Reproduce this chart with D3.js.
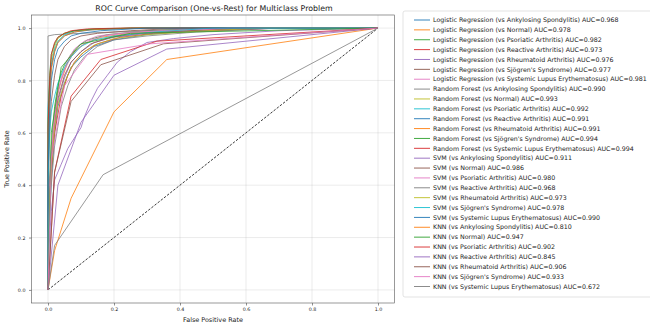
<!DOCTYPE html>
<html><head><meta charset="utf-8">
<script src="https://cdn.jsdelivr.net/npm/d3@7"></script>
<style>body{margin:0;background:#fff} text{font-family:"DejaVu Sans",sans-serif;fill:#222}</style>
</head><body><svg id="c" width="650" height="327"></svg>
<script>
const classes = ["Ankylosing Spondylitis","Normal","Psoriatic Arthritis","Reactive Arthritis","Rheumatoid Arthritis","Sjögren's Syndrome","Systemic Lupus Erythematosus"];
const models = ["Logistic Regression","Random Forest","SVM","KNN"];
const aucLR  = [0.968,0.978,0.982,0.973,0.976,0.977,0.981];
const aucRF  = [0.990,0.993,0.992,0.991,0.991,0.994,0.994];
const aucSVM = [0.911,0.986,0.980,0.968,0.973,0.978,0.990];
const aucKNN = [0.810,0.947,0.902,0.845,0.906,0.933,0.672];
const xTicks = [0,0.2,0.4,0.6,0.8,1.0];
const yTicks = [0,0.2,0.4,0.6,0.8,1.0];

const rocLR = [
 [[0,0],[0,0.15],[0.01,0.42],[0.02,0.6],[0.03,0.7],[0.05,0.79],[0.07,0.85],[0.1,0.89],[0.14,0.93],[0.2,0.955],[0.3,0.975],[0.45,0.99],[0.7,1],[1,1]],
 [[0,0],[0,0.25],[0.01,0.5],[0.02,0.66],[0.03,0.75],[0.04,0.8],[0.06,0.87],[0.08,0.91],[0.11,0.94],[0.16,0.965],[0.25,0.98],[0.4,0.99],[0.6,1],[1,1]],
 [[0,0],[0,0.3],[0.01,0.55],[0.02,0.7],[0.03,0.78],[0.04,0.83],[0.05,0.86],[0.07,0.9],[0.09,0.93],[0.12,0.955],[0.18,0.975],[0.3,0.99],[0.5,1],[1,1]],
 [[0,0],[0,0.2],[0.01,0.45],[0.02,0.6],[0.04,0.74],[0.06,0.82],[0.08,0.87],[0.11,0.91],[0.15,0.94],[0.22,0.965],[0.32,0.98],[0.5,0.99],[0.7,1],[1,1]],
 [[0,0],[0,0.22],[0.01,0.48],[0.02,0.63],[0.03,0.72],[0.05,0.81],[0.07,0.87],[0.1,0.91],[0.14,0.945],[0.2,0.965],[0.3,0.98],[0.45,0.99],[0.65,1],[1,1]],
 [[0,0],[0,0.28],[0.01,0.5],[0.02,0.64],[0.03,0.73],[0.05,0.82],[0.07,0.87],[0.1,0.91],[0.13,0.94],[0.19,0.965],[0.28,0.98],[0.42,0.99],[0.62,1],[1,1]],
 [[0,0],[0,0.3],[0.01,0.52],[0.02,0.67],[0.03,0.76],[0.05,0.84],[0.07,0.89],[0.09,0.92],[0.12,0.95],[0.17,0.97],[0.26,0.985],[0.4,0.993],[0.6,1],[1,1]]
];
const rocRF = [
 [[0,0],[0,0.97],[0.02,0.975],[0.1,0.98],[0.3,0.99],[0.5,1],[1,1]],
 [[0,0],[0,0.6],[0.005,0.8],[0.01,0.88],[0.02,0.93],[0.03,0.96],[0.05,0.98],[0.08,0.99],[0.15,0.997],[0.3,1],[1,1]],
 [[0,0],[0,0.7],[0.005,0.78],[0.01,0.86],[0.02,0.92],[0.03,0.95],[0.05,0.975],[0.08,0.99],[0.15,0.996],[0.3,1],[1,1]],
 [[0,0],[0,0.5],[0.005,0.74],[0.01,0.85],[0.02,0.91],[0.03,0.945],[0.05,0.97],[0.08,0.985],[0.13,0.993],[0.25,1],[1,1]],
 [[0,0],[0,0.45],[0.005,0.72],[0.01,0.84],[0.02,0.91],[0.03,0.945],[0.05,0.97],[0.08,0.985],[0.12,0.993],[0.25,1],[1,1]],
 [[0,0],[0,0.65],[0.005,0.82],[0.01,0.9],[0.02,0.94],[0.03,0.965],[0.05,0.98],[0.08,0.99],[0.14,0.997],[0.25,1],[1,1]],
 [[0,0],[0,0.62],[0.005,0.8],[0.01,0.9],[0.02,0.945],[0.03,0.965],[0.05,0.98],[0.07,0.99],[0.12,0.997],[0.22,1],[1,1]]
];
const rocSVM = [
 [[0,0],[0,0.1],[0.01,0.3],[0.02,0.42],[0.04,0.48],[0.06,0.54],[0.08,0.58],[0.1,0.62],[0.11,0.66],[0.13,0.72],[0.15,0.77],[0.18,0.82],[0.21,0.87],[0.25,0.91],[0.3,0.945],[0.38,0.96],[0.5,0.975],[0.7,0.99],[1,1]],
 [[0,0],[0,0.35],[0.005,0.6],[0.01,0.72],[0.02,0.82],[0.03,0.88],[0.05,0.93],[0.07,0.955],[0.1,0.97],[0.15,0.98],[0.25,0.99],[0.4,1],[1,1]],
 [[0,0],[0,0.2],[0.01,0.5],[0.02,0.65],[0.03,0.75],[0.04,0.81],[0.06,0.88],[0.08,0.92],[0.11,0.95],[0.15,0.97],[0.22,0.98],[0.35,0.99],[0.55,1],[1,1]],
 [[0,0],[0,0.15],[0.01,0.4],[0.02,0.55],[0.04,0.7],[0.06,0.78],[0.08,0.84],[0.11,0.89],[0.15,0.93],[0.2,0.955],[0.3,0.97],[0.45,0.985],[0.7,1],[1,1]],
 [[0,0],[0,0.2],[0.01,0.46],[0.02,0.62],[0.03,0.71],[0.05,0.79],[0.07,0.85],[0.1,0.9],[0.14,0.935],[0.2,0.96],[0.3,0.975],[0.45,0.988],[0.65,1],[1,1]],
 [[0,0],[0,0.4],[0.005,0.6],[0.01,0.68],[0.02,0.74],[0.03,0.79],[0.05,0.85],[0.07,0.89],[0.1,0.93],[0.14,0.955],[0.2,0.97],[0.32,0.985],[0.5,1],[1,1]],
 [[0,0],[0,0.45],[0.005,0.68],[0.01,0.8],[0.02,0.88],[0.03,0.92],[0.05,0.95],[0.07,0.97],[0.1,0.98],[0.16,0.99],[0.3,1],[1,1]]
];
const rocKNN = [
 [[0,0],[0.02,0.15],[0.07,0.35],[0.2,0.68],[0.36,0.88],[1,1]],
 [[0,0],[0.01,0.6],[0.04,0.85],[0.1,0.94],[0.25,0.98],[1,1]],
 [[0,0],[0.02,0.45],[0.07,0.74],[0.16,0.88],[0.33,0.95],[1,1]],
 [[0,0],[0.03,0.4],[0.1,0.64],[0.2,0.82],[0.36,0.92],[1,1]],
 [[0,0],[0.02,0.45],[0.07,0.72],[0.16,0.86],[0.35,0.94],[1,1]],
 [[0,0],[0.01,0.5],[0.05,0.78],[0.12,0.9],[0.31,0.94],[1,1]],
 [[0,0],[0.02,0.17],[0.167,0.44],[1,1]]
];
const diagonal = [[0,0],[1,1]];
const palette = ["#1f77b4","#ff7f0e","#2ca02c","#d62728","#9467bd","#8c564b","#e377c2","#7f7f7f","#bcbd22","#17becf"];

const aucs = [aucLR, aucRF, aucSVM, aucKNN];
const rocs = [rocLR, rocRF, rocSVM, rocKNN];
const series = [];
models.forEach((m, mi) => classes.forEach((c, ci) => {
  series.push({label: `${m} (vs ${c}) AUC=${aucs[mi][ci].toFixed(3)}`, pts: rocs[mi][ci]});
}));
series.forEach((s, i) => s.color = palette[i % 10]);

const svg = d3.select("#c");
const L = 31.5, R = 394.5, T = 15, B = 303;
const x = d3.scaleLinear().domain([-0.05, 1.05]).range([L, R]);
const y = d3.scaleLinear().domain([-0.05, 1.05]).range([B, T]);

function fitSize(sel, target) {
  sel.attr("font-size", 10);
  const w = sel.node().getComputedTextLength();
  const fs = 10 * target / w;
  sel.attr("font-size", fs);
  return fs;
}

// grid
const g = svg.append("g");
g.selectAll(".gx").data(xTicks).join("line").attr("x1", d => x(d)).attr("x2", d => x(d))
  .attr("y1", T).attr("y2", B).attr("stroke", "#b0b0b0").attr("stroke-opacity", 0.4).attr("stroke-width", 0.6);
g.selectAll(".gy").data(yTicks).join("line").attr("y1", d => y(d)).attr("y2", d => y(d))
  .attr("x1", L).attr("x2", R).attr("stroke", "#b0b0b0").attr("stroke-opacity", 0.4).attr("stroke-width", 0.6);

// axes
const xa = svg.append("g").attr("transform", `translate(0,${B})`)
  .call(d3.axisBottom(x).tickValues(xTicks).tickFormat(d3.format(".1f")).tickSize(2.5).tickPadding(2.5));
const ya = svg.append("g").attr("transform", `translate(${L},0)`)
  .call(d3.axisLeft(y).tickValues(yTicks).tickFormat(d3.format(".1f")).tickSize(2.5).tickPadding(3.5));
[xa, ya].forEach(a => {
  a.select(".domain").remove();
  a.selectAll("line").attr("stroke", "#444").attr("stroke-width", 0.6);
  a.selectAll("text").attr("font-size", 4.8).attr("font-family", "DejaVu Sans").attr("fill", "#333");
});

// lines
const line = d3.line().x(d => x(d[0])).y(d => y(d[1]));
const plot = svg.append("g");
plot.append("path").datum(diagonal).attr("d", line).attr("fill", "none")
  .attr("stroke", "#222").attr("stroke-width", 0.9).attr("stroke-dasharray", "2.5,1.5");
series.forEach(s => {
  plot.append("path").datum(s.pts).attr("d", line).attr("fill", "none")
    .attr("stroke", s.color).attr("stroke-width", 0.8).attr("stroke-linejoin", "round");
});

// frame
svg.append("rect").attr("x", L).attr("y", T).attr("width", R - L).attr("height", B - T)
  .attr("fill", "none").attr("stroke", "#555").attr("stroke-width", 0.6);

// titles
const title = svg.append("text").attr("x", 214).attr("y", 11).attr("text-anchor", "middle")
  .text("ROC Curve Comparison (One-vs-Rest) for Multiclass Problem");
fitSize(title, 238);
const xl = svg.append("text").attr("x", (L + R) / 2).attr("y", 322).attr("text-anchor", "middle")
  .text("False Positive Rate");
const labFs = fitSize(xl, 60);
svg.append("text").attr("transform", `translate(9,${(T + B) / 2}) rotate(-90)`).attr("text-anchor", "middle")
  .attr("font-size", labFs).text("True Positive Rate");

// legend
const lg = svg.append("g");
lg.append("rect").attr("x", 403).attr("y", 11).attr("width", 260).attr("height", 286).attr("rx", 2)
  .attr("fill", "#fff").attr("fill-opacity", 0.8).attr("stroke", "#d0d0d0").attr("stroke-width", 0.6);
const ly = d3.scaleLinear().domain([0, series.length - 1]).range([20, 286.5]);
const texts = [];
series.forEach((s, i) => {
  lg.append("line").attr("x1", 414).attr("x2", 430).attr("y1", ly(i)).attr("y2", ly(i))
    .attr("stroke", s.color).attr("stroke-width", 0.9);
  texts.push(lg.append("text").attr("x", 433).attr("y", ly(i)).attr("dy", "0.35em").text(s.label));
});
// size legend text so that the longest entry still fits inside the picture
let longest = texts[0], lw = 0;
texts.forEach(t => { t.attr("font-size", 10); const w = t.node().getComputedTextLength(); if (w > lw) { lw = w; longest = t; } });
const legFs = 10 * 214 / lw;
texts.forEach(t => t.attr("font-size", legFs));
</script></body></html>
